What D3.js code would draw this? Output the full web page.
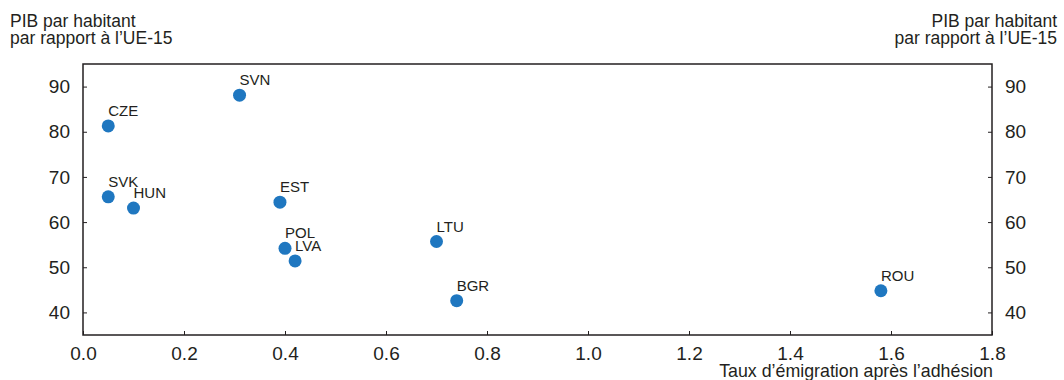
<!DOCTYPE html>
<html>
<head>
<meta charset="utf-8">
<script src="https://cdn.jsdelivr.net/npm/d3@7"></script>
<style>
  html, body { margin: 0; padding: 0; background: #fff; }
  svg { display: block; font-family: "Liberation Sans", Arial, Helvetica, sans-serif; }
</style>
</head>
<body>
<svg id="chart" width="1064" height="380"></svg>
<script>
// Countries, post-accession emigration rate, GDP per capita relative to EU-15
const countries = ["CZE", "SVN", "SVK", "HUN", "EST", "POL", "LVA", "LTU", "BGR", "ROU"];
const emigration = [0.05, 0.31, 0.05, 0.10, 0.39, 0.40, 0.42, 0.70, 0.74, 1.58];
const gdpPerCapita = [81.3, 88.1, 65.6, 63.1, 64.4, 54.2, 51.4, 55.7, 42.6, 44.8];

const xTicks = [0.0, 0.2, 0.4, 0.6, 0.8, 1.0, 1.2, 1.4, 1.6, 1.8];
const yTicks = [40, 50, 60, 70, 80, 90];

const yTitleLines = ["PIB par habitant", "par rapport à l’UE-15"];
const xTitle = "Taux d’émigration après l’adhésion";

const W = 1064, H = 380;
const margin = { top: 64, right: 72, bottom: 45, left: 83 };
const innerW = W - margin.left - margin.right;
const innerH = H - margin.top - margin.bottom;

const ink = "#231f20";
const dotColor = "#1f77c0";

const svg = d3.select("#chart");
const g = svg.append("g").attr("transform", `translate(${margin.left},${margin.top})`);

const x = d3.scaleLinear().domain([0, 1.8]).range([0, innerW]);
const y = d3.scaleLinear().domain([35, 95]).range([innerH, 0]);

// Axes with inward ticks
const xAxis = d3.axisBottom(x).tickValues(xTicks).tickFormat(d3.format(".1f"))
  .tickSizeInner(-4).tickSizeOuter(0).tickPadding(12);
const yAxisL = d3.axisLeft(y).tickValues(yTicks).tickFormat(d3.format("d"))
  .tickSizeInner(-4).tickSizeOuter(0).tickPadding(13);
const yAxisR = d3.axisRight(y).tickValues(yTicks).tickFormat(d3.format("d"))
  .tickSizeInner(-4).tickSizeOuter(0).tickPadding(13);

function styleAxis(sel) {
  sel.select(".domain").remove();
  sel.selectAll(".tick line").attr("stroke", ink).attr("stroke-width", 1);
  sel.selectAll(".tick text").attr("fill", ink).style("font-size", "19px");
}

g.append("g").attr("transform", `translate(0,${innerH})`).call(xAxis).call(styleAxis)
  .selectAll(".tick text").attr("dy", "0.71em");
g.append("g").call(yAxisL).call(styleAxis);
g.append("g").attr("transform", `translate(${innerW},0)`).call(yAxisR).call(styleAxis);

// Frame
g.append("rect")
  .attr("x", 0).attr("y", 0).attr("width", innerW).attr("height", innerH)
  .attr("fill", "none").attr("stroke", ink).attr("stroke-width", 1.5);

// Points
const data = countries.map((c, i) => ({ c, x: emigration[i], y: gdpPerCapita[i] }));

g.selectAll("circle.pt").data(data).join("circle")
  .attr("class", "pt")
  .attr("cx", d => x(d.x)).attr("cy", d => y(d.y))
  .attr("r", 6.5).attr("fill", dotColor);

g.selectAll("text.lbl").data(data).join("text")
  .attr("class", "lbl")
  .attr("x", d => x(d.x)).attr("y", d => y(d.y) - 10)
  .attr("fill", ink).style("font-size", "15px")
  .text(d => d.c);

// Y-axis titles, left and right
const tl = svg.append("text").attr("fill", ink).style("font-size", "17.5px");
yTitleLines.forEach((t, i) => tl.append("tspan").attr("x", 10).attr("y", 26.5 + i * 17.7).text(t));

const tr = svg.append("text").attr("fill", ink).style("font-size", "17.5px").attr("text-anchor", "end");
yTitleLines.forEach((t, i) => tr.append("tspan").attr("x", W - 7).attr("y", 26.5 + i * 17.7).text(t));

// X-axis title
svg.append("text")
  .attr("x", margin.left + innerW + 1).attr("y", 377)
  .attr("text-anchor", "end").attr("fill", ink).style("font-size", "17.8px")
  .text(xTitle);
</script>
</body>
</html>
